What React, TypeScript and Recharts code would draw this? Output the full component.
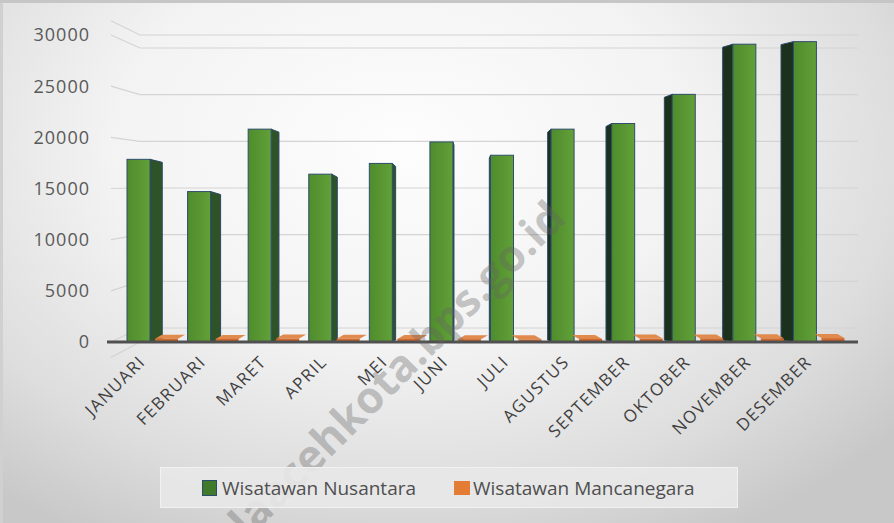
import { BarChart, Bar, XAxis, YAxis, CartesianGrid } from 'recharts'

const MONTHS = ['JANUARI', 'FEBRUARI', 'MARET', 'APRIL', 'MEI', 'JUNI', 'JULI', 'AGUSTUS', 'SEPTEMBER', 'OKTOBER', 'NOVEMBER', 'DESEMBER']
const NUSANTARA = [17850, 14700, 20800, 16400, 17450, 19550, 18250, 20800, 21350, 24200, 29100, 29350]
const MANCANEGARA = [320, 300, 340, 310, 300, 280, 260, 300, 330, 350, 360, 380]
const Y_TICKS = [0, 5000, 10000, 15000, 20000, 25000, 30000]

const data = MONTHS.map((m, i) => ({ name: m, nus: NUSANTARA[i], man: MANCANEGARA[i] }))

const MID = 470
const FLOOR = 342
const BACK_FLOOR = 328

// front face + one visible side, side faces the middle of the chart
const GreenBar3D = (props: any) => {
  const { x, y, width: w, height: h } = props
  if (h == null || h <= 0) return null
  const cx = x + w / 2
  const d = Math.abs(cx - MID) * 0.037
  const right = cx < MID
  const sx = right ? x + w : x
  const bx = right ? sx + d : sx - d
  const side = `${sx},${y} ${bx},${y + 3} ${bx},${y + h - 2} ${sx},${y + h}`
  return (
    <g>
      <polygon points={side} fill={right ? '#2f5328' : '#1b311b'} stroke="#2b4866" strokeWidth={1} />
      <rect x={x} y={y} width={w} height={h} fill="url(#greenFront)" stroke="#2e4d6c" strokeWidth={1} />
    </g>
  )
}

const OrangeSlab = (props: any) => {
  const { x, y, width: w, height: h } = props
  const cx = x + w / 2
  const s = cx < MID ? 7 : -7
  const top = `${x},${y} ${x + w},${y} ${x + w + s},${y - 4} ${x + s},${y - 4}`
  return (
    <g>
      <polygon points={top} fill="#e08a4e" />
      <rect x={x} y={y} width={w} height={Math.max(h, 2)} fill="#d2692a" />
    </g>
  )
}

const GridLine = (p: any) => {
  const y = p.y1
  const yl = FLOOR - (BACK_FLOOR - y) * (307 / 280)
  return (
    <polyline
      key={p.key}
      points={`${p.x1 + 4},${yl} ${p.x1 + 33},${y} ${p.x2},${y}`}
      fill="none"
      stroke="#d4d4d4"
      strokeWidth={1.2}
    />
  )
}

const MonthTick = (props: any) => {
  const { x, y, payload } = props
  const tx = x - 6
  const ty = y + 21
  return (
    <text
      x={tx}
      y={ty}
      transform={`rotate(-45, ${tx}, ${ty})`}
      textAnchor="end"
      fontFamily="'Open Sans', sans-serif"
      fontSize={17}
      letterSpacing={1.4}
      fill="#3f3f3f"
    >
      {payload.value}
    </text>
  )
}

export default function App() {
  return (
    <div
      style={{
        position: 'absolute',
        left: 0,
        top: 0,
        width: 894,
        height: 523,
        overflow: 'hidden',
        background: 'radial-gradient(ellipse 72% 85% at 45% 28%, #fdfdfd 0%, #f3f3f3 45%, #dddddd 78%, #c8c8c8 100%)',
        boxShadow: 'inset 0 3px 0 #c6c6c6, inset 3px 0 0 #d0d0d0',
        fontFamily: "'Open Sans', sans-serif",
      }}
    >
      <BarChart
        width={894}
        height={523}
        data={data}
        margin={{ top: 35, right: 36, left: 0, bottom: 0 }}
        barSize={23}
        barGap={5}
      >
        <defs>
          <linearGradient id="greenFront" x1="0" y1="0" x2="1" y2="0">
            <stop offset="0%" stopColor="#4f8c2c" />
            <stop offset="100%" stopColor="#62a039" />
          </linearGradient>
        </defs>
        <CartesianGrid yAxisId="grid" vertical={false} horizontal={GridLine} />
        <XAxis
          dataKey="name"
          interval={0}
          height={181}
          padding={{ left: 15, right: 9 }}
          tickSize={0}
          tickMargin={0}
          tick={<MonthTick />}
          axisLine={{ stroke: '#505050', strokeWidth: 3 }}
        />
        <YAxis
          domain={[0, 30000]}
          ticks={Y_TICKS}
          width={107}
          tickSize={0}
          tickMargin={17}
          axisLine={false}
          tickLine={false}
          tick={{ fill: '#595959', fontSize: 18, letterSpacing: 1, fontFamily: "'Open Sans', sans-serif" }}
        />
        <YAxis yAxisId="grid" hide domain={[-1500, 31393]} ticks={Y_TICKS} allowDataOverflow />
        <Bar dataKey="nus" name="Wisatawan Nusantara" fill="#5b9a34" shape={<GreenBar3D />} isAnimationActive={false} />
        <Bar dataKey="man" name="Wisatawan Mancanegara" fill="#e07a38" shape={<OrangeSlab />} isAnimationActive={false} />
      </BarChart>

      <svg width={894} height={523} style={{ position: 'absolute', left: 0, top: 0, pointerEvents: 'none' }}>
        <text
          x={568}
          y={220}
          transform="rotate(-45, 568, 220)"
          textAnchor="end"
          fontFamily="'Open Sans', sans-serif"
          fontWeight={700}
          fontSize={44}
          fill="rgba(100,100,100,0.36)"
        >
          bandaacehkota.bps.go.id
        </text>
      </svg>

      <div
        style={{
          position: 'absolute',
          left: 160,
          top: 467,
          width: 578,
          height: 41,
          boxSizing: 'border-box',
          background: 'rgba(232,232,232,0.9)',
          border: '1px solid #f1f1f1',
          display: 'flex',
          alignItems: 'center',
          color: '#4f4f4f',
          fontSize: 19,
        }}
      >
        <span style={{ display: 'inline-block', width: 13, height: 14, background: '#3f7a2d', border: '1px solid #2e4d6c', marginLeft: 41, marginRight: 5 }} />
        <span>Wisatawan Nusantara</span>
        <span style={{ display: 'inline-block', width: 16, height: 14, background: '#e57c34', marginLeft: 38, marginRight: 3 }} />
        <span>Wisatawan Mancanegara</span>
      </div>
    </div>
  )
}
